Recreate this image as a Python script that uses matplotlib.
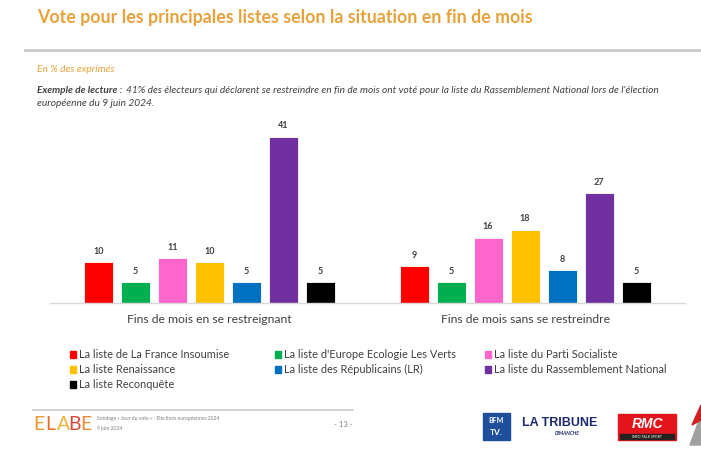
import matplotlib
matplotlib.use("Agg")
import matplotlib.pyplot as plt
import matplotlib.patches as mpatches
import numpy as np

plt.rcParams['font.family'] = ['Lato', 'DejaVu Sans']

# ---- data ----
groups = ["Fins de mois en se restreignant", "Fins de mois sans se restreindre"]
series = ["La liste de La France Insoumise", "La liste d'Europe Ecologie Les Verts",
          "La liste du Parti Socialiste", "La liste Renaissance",
          "La liste des Républicains (LR)", "La liste du Rassemblement National",
          "La liste Reconquête"]
colors = ["#FF0000", "#00B050", "#FF66CC", "#FFC000", "#0070C0", "#7030A0", "#000000"]
values_restreignant = [10, 5, 11, 10, 5, 41, 5]
values_sans = [9, 5, 16, 18, 8, 27, 5]
values = [values_restreignant, values_sans]

W, H = 701, 465
fig = plt.figure(figsize=(W / 100, H / 100), dpi=100)
fig.patch.set_facecolor("white")

def fx(px):
    return px / W

def fy(py):
    return 1 - py / H

orange = "#E9A23B"
textgray = "#404040"

# ---- title & header ----
fig.text(fx(37), fy(17), "Vote pour les principales listes selon la situation en fin de mois",
         color=orange, fontsize=12.8, fontweight="bold", va="center", ha="left")
fig.add_artist(plt.Line2D([fx(25), fx(701)], [fy(50), fy(50)], color="#C9C9C9", lw=2))
fig.text(fx(37), fy(70), "En % des exprimés", color=orange, fontsize=7.3, style="italic",
         va="center", ha="left")
lab = fig.text(fx(37), fy(90), "Exemple de lecture :", color=textgray, fontsize=7.3,
               style="italic", fontweight="bold", va="center", ha="left")
renderer = fig.canvas.get_renderer()
bb = lab.get_window_extent(renderer=renderer)
fig.text(bb.x1 / W + fx(4), fy(90),
         "41% des électeurs qui déclarent se restreindre en fin de mois ont voté pour la liste du "
         "Rassemblement National lors de l'élection",
         color=textgray, fontsize=7.3, style="italic", va="center", ha="left")
fig.text(fx(37), fy(103), "européenne du 9 juin 2024.", color=textgray, fontsize=7.3,
         style="italic", va="center", ha="left")

# ---- bar chart ----
ax = fig.add_axes([fx(50), fy(302.5), fx(685) - fx(50), fy(120.5) - fy(302.5)])
n = len(series)
step = 1.0
gap = 8.53
bw = 0.784
offsets = (np.arange(n) - (n - 1) / 2) * step
centers = np.arange(len(groups)) * gap
for g, gvals in enumerate(values):
    xs = centers[g] + offsets
    ax.bar(xs, gvals, width=bw, color=colors, edgecolor="white", linewidth=0.6)
    for x, v in zip(xs, gvals):
        ax.text(x, v + 1.6, str(v), ha="center", va="bottom", fontsize=6.5,
                color=textgray, fontweight="bold")
ax.set_xlim((50 - 209.5) / 37, (685 - 209.5) / 37)
ax.set_ylim(0, 45)
for s in ["top", "right", "left"]:
    ax.spines[s].set_visible(False)
ax.spines["bottom"].set_color("#D9D9D9")
ax.spines["bottom"].set_linewidth(1)
ax.set_yticks([])
ax.set_xticks(centers)
ax.set_xticklabels(groups, fontsize=8.7, color=textgray)
ax.tick_params(axis="x", length=0, pad=8)
ax.patch.set_alpha(0)

# ---- legend ----
col_x = [73, 278, 488]
row_y = [354, 369, 384]
for i, (name, c) in enumerate(zip(series, colors)):
    r, col = divmod(i, 3)
    x, y = col_x[col], row_y[r]
    fig.add_artist(mpatches.Rectangle((fx(x - 3), fy(y + 3.5)), fx(6), fy(0) - fy(7),
                                      color=c, transform=fig.transFigure))
    fig.text(fx(x + 6), fy(y), name, fontsize=7.9, color=textgray, va="center", ha="left")

# ---- footer ----
fig.add_artist(plt.Line2D([fx(33), fx(353)], [fy(410), fy(410)], color="#C9C9C9", lw=1.2))
logo_cols = ["#EE9A2E", "#E8702A", "#F0B43A", "#D9483A", "#EC8A36"]
lx = 33
for ch, c in zip("ELABE", logo_cols):
    fig.text(fx(lx), fy(424), ch, fontsize=14, color=c, va="center", ha="left",
             fontweight="normal")
    lx += 11.8
fig.text(fx(97), fy(418), "Sondage « Jour du vote » - Elections européennes 2024",
         fontsize=3.6, color="#808080", va="center", ha="left")
fig.text(fx(97), fy(428), "9 juin 2024", fontsize=3.6, color="#808080", va="center", ha="left")
fig.text(fx(343), fy(424), "- 13 -", fontsize=5.5, color="#808080", va="center", ha="center")

# logos (decorative)
fig.add_artist(mpatches.Rectangle((fx(483), fy(440)), fx(27), fy(0) - fy(27),
                                  color="#1F4E9A", transform=fig.transFigure))
fig.text(fx(496.5), fy(420), "BFM", fontsize=5, color="white", fontweight="bold",
         ha="center", va="center")
fig.text(fx(496.5), fy(432), "TV.", fontsize=6, color="white", fontweight="bold",
         ha="center", va="center")
fig.text(fx(522), fy(423), "LA TRIBUNE", fontsize=9, color="#1F2A6B", fontweight="black",
         ha="left", va="center", family=["Liberation Sans", "DejaVu Sans"])
fig.text(fx(567), fy(433), "DIMANCHE", fontsize=3.5, color="#1F2A6B", fontweight="bold",
         ha="center", va="center", style="italic")
fig.add_artist(mpatches.Rectangle((fx(618), fy(440)), fx(58), fy(0) - fy(26),
                                  color="#E3141B", transform=fig.transFigure))
fig.add_artist(mpatches.Rectangle((fx(620), fy(439)), fx(54), fy(0) - fy(5),
                                  color="#222222", transform=fig.transFigure))
fig.text(fx(647), fy(424), "RMC", fontsize=10, color="white", fontweight="black",
         style="italic", ha="center", va="center", family=["Liberation Sans", "DejaVu Sans"])
fig.text(fx(647), fy(436.5), "INFO TALK SPORT", fontsize=2.5, color="white",
         ha="center", va="center")
fig.add_artist(mpatches.Polygon([[fx(690), fy(445)], [fx(701), fy(415)], [fx(701), fy(445)]],
                                closed=True, color="#A0A0A0", transform=fig.transFigure))
fig.add_artist(mpatches.Polygon([[fx(692), fy(425)], [fx(701), fy(405)], [fx(701), fy(420)]],
                                closed=True, color="#D02020", transform=fig.transFigure))

fig.savefig("out.png", dpi=100, facecolor="white")
